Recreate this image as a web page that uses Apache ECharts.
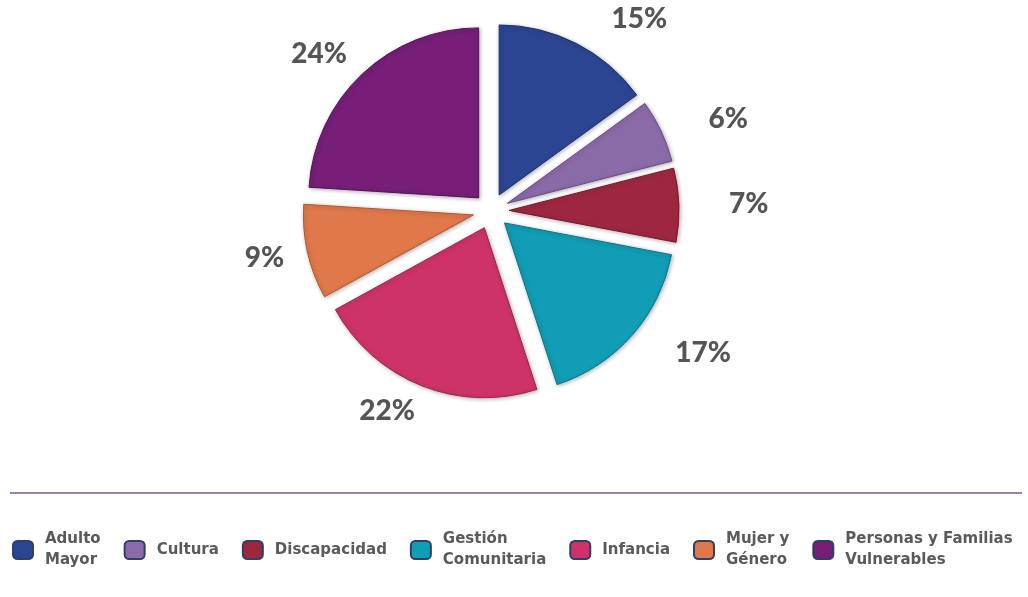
<!DOCTYPE html>
<html>
<head>
<meta charset="utf-8">
<script src="https://cdn.jsdelivr.net/npm/echarts@6/dist/echarts.min.js"></script>
<style>
html,body{margin:0;padding:0;background:#fff;}
#chart{width:1028px;height:597px;}
</style>
</head>
<body>
<div id="chart"></div>
<script>
const categories = ['Adulto\nMayor', 'Cultura', 'Discapacidad', 'Gestión\nComunitaria', 'Infancia', 'Mujer y\nGénero', 'Personas y Familias\nVulnerables'];
const values = [15, 6, 7, 17, 22, 9, 24];
const colors = ['#2b4592', '#8b6aa8', '#9e2740', '#109db5', '#cd3369', '#e0784a', '#761e78'];
const borders = ['#1c2f6a', '#6a4d86', '#741a2d', '#0a7486', '#9c2450', '#b0582f', '#561458'];

const chart = echarts.init(document.getElementById('chart'));
chart.setOption({
  animation: false,
  graphic: [{
    type: 'line',
    shape: { x1: 10, y1: 493, x2: 1022, y2: 493 },
    style: { stroke: '#9a80aa', lineWidth: 2 }
  }],
  legend: {
    left: 12,
    top: 529,
    width: 1016,
    padding: 0,
    itemWidth: 20,
    itemHeight: 18,
    itemGap: 23,
    icon: 'roundRect',
    selectedMode: false,
    itemStyle: { borderColor: '#2f3f66', borderWidth: 2 },
    textStyle: { fontFamily: 'DejaVu Sans', fontWeight: 'bold', fontSize: 15, color: '#5a5a5a', lineHeight: 21, padding: [0, 0, 0, 7] },
    data: categories
  },
  series: [{
    type: 'pie',
    center: [491, 211],
    radius: 170,
    startAngle: 90,
    clockwise: true,
    selectedMode: 'multiple',
    selectedOffset: 18,
    label: {
      show: true,
      position: 'outside',
      formatter: (p) => p.value + '%',
      fontFamily: 'Lato',
      fontWeight: 900,
      fontSize: 28,
      color: '#555555',
      distanceToLabelLine: 0
    },
    labelLine: { show: false, length: 27, length2: 10 },
    labelLayout: { dx: 13 },
    emphasis: { disabled: true },
    data: categories.map((name, i) => ({
      name: name,
      value: values[i],
      selected: true,
      itemStyle: {
        color: colors[i],
        borderColor: borders[i],
        borderWidth: 1,
        shadowBlur: 4,
        shadowColor: 'rgba(0,0,0,0.3)',
        shadowOffsetX: 1,
        shadowOffsetY: 1
      }
    }))
  }]
});
</script>
</body>
</html>
